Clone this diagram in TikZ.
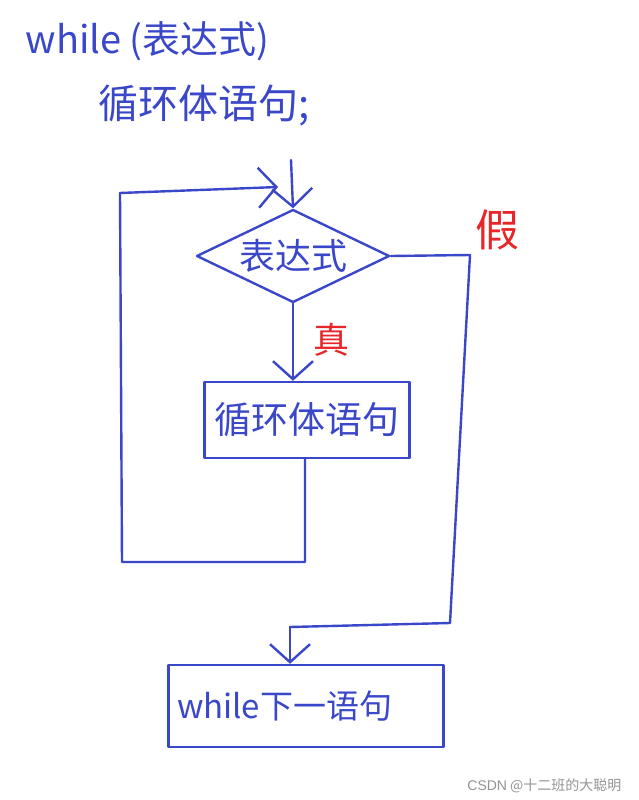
\documentclass[tikz,border=0pt]{standalone}
\usepackage{fontspec}
\setmainfont{Noto Sans CJK SC}
\newfontfamily\cjk{Noto Sans CJK SC}
\newfontfamily\wm{Liberation Sans}
\usetikzlibrary{shapes.geometric,arrows.meta}
\definecolor{pen}{HTML}{3A47C9}
\definecolor{redpen}{HTML}{E8262A}
\begin{document}
\begin{tikzpicture}[x=1pt,y=-1pt,
  line/.style={draw=pen,line width=2.4pt,line cap=round,line join=round},
  arr/.style={line,-{Straight Barb[length=18pt,width=40pt,line width=2.4pt]}},
  box/.style={line,rectangle,minimum width=#1,inner sep=0pt},
  txt/.style={text=pen,font=\cjk},
  lab/.style={text=redpen,font=\cjk\fontsize{44}{46}\selectfont}]
\useasboundingbox (0,0) rectangle (638,800);
% title lines
\node[txt,anchor=base west,font=\cjk\fontsize{38}{40}\selectfont] (t1) at (22,54) {while (表达式)};
\node[txt,anchor=base west,font=\cjk\fontsize{40}{44}\selectfont] (t2) at (95,118) {循环体语句;};
% flowchart
\coordinate (start) at (291,160);
\node[line,diamond,minimum width=193pt,minimum height=93pt,inner sep=0pt] (cond) at (293,256) {};
\node[txt,font=\cjk\fontsize{36}{38}\selectfont] (condtxt) at (cond.center) {表达式};
\node[box=205pt,minimum height=76pt,txt,font=\cjk\fontsize{37}{40}\selectfont] (body) at (307,420) {循环体语句};
\node[box=275pt,minimum height=82pt,txt,font=\cjk\fontsize{33}{36}\selectfont,text width=258pt,align=left] (next) at (306,706) {while下一语句};
\coordinate (l1) at (305,562);
\coordinate (l2) at (122,562);
\coordinate (l3) at (120,193);
\coordinate (l4) at (278,187);
\coordinate (r1) at (470,255);
\coordinate (r2) at (450,623);
\coordinate (r3) at (290,627);
\draw[arr] (start) -- (cond.north);
\draw[arr] (cond.south) -- (body.north -| cond.south);
\draw[line] (body.south -| l1) -- (l1) -- (l2) -- (l3);
\draw[arr] (l3) -- (l4);
\draw[line] (cond.east) -- (r1) -- (r2) -- (r3);
\draw[arr] (r3) -- (next.north -| r3);
% labels
\node[lab] (jia) at (497,230) {假};
\node[lab,font=\cjk\fontsize{36}{38}\selectfont] (zhen) at (331,340) {真};
% watermark
\node[anchor=base east,text=gray!85,font=\cjk\fontsize{14}{16}\selectfont] (wm) at (625,790) {{\wm CSDN} @十二班的大聪明};
\end{tikzpicture}
\end{document}
